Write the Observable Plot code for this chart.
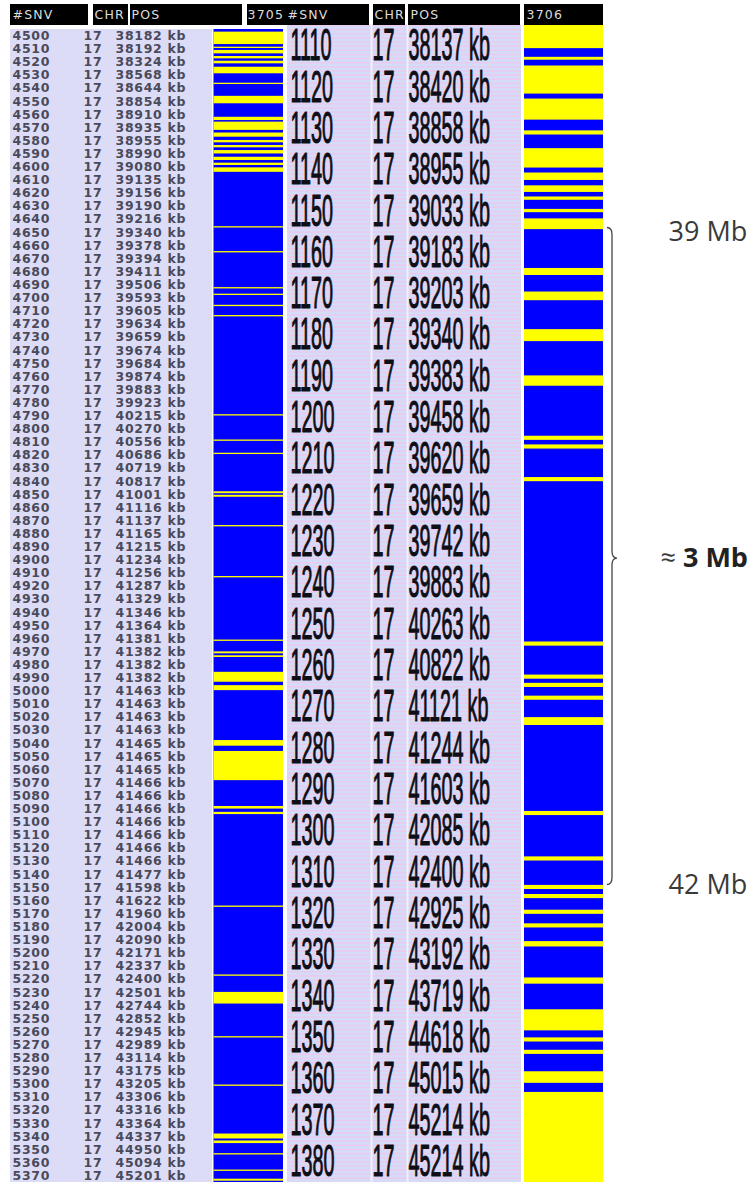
<!DOCTYPE html>
<html><head><meta charset="utf-8">
<script src="https://cdn.jsdelivr.net/npm/d3@7"></script>
<script src="https://cdn.jsdelivr.net/npm/@observablehq/plot@0.6"></script>
<style>
body{margin:0;background:#fff;}
#wrap{position:relative;width:755px;height:1182px;overflow:hidden;background:#fff;}
#wrap svg{position:absolute;top:0;}
</style></head><body><div id="wrap"></div>
<script>
// ---------- DATA ----------
const chromosome = "17";
const snvLeft = [4500,4510,4520,4530,4540,4550,4560,4570,4580,4590,4600,4610,4620,4630,4640,4650,4660,4670,4680,4690,4700,4710,4720,4730,4740,4750,4760,4770,4780,4790,4800,4810,4820,4830,4840,4850,4860,4870,4880,4890,4900,4910,4920,4930,4940,4950,4960,4970,4980,4990,5000,5010,5020,5030,5040,5050,5060,5070,5080,5090,5100,5110,5120,5130,5140,5150,5160,5170,5180,5190,5200,5210,5220,5230,5240,5250,5260,5270,5280,5290,5300,5310,5320,5330,5340,5350,5360,5370];
const posLeft = [38182,38192,38324,38568,38644,38854,38910,38935,38955,38990,39080,39135,39156,39190,39216,39340,39378,39394,39411,39506,39593,39605,39634,39659,39674,39684,39874,39883,39923,40215,40270,40556,40686,40719,40817,41001,41116,41137,41165,41215,41234,41256,41287,41329,41346,41364,41381,41382,41382,41382,41463,41463,41463,41463,41465,41465,41465,41466,41466,41466,41466,41466,41466,41466,41477,41598,41622,41960,42004,42090,42171,42337,42400,42501,42744,42852,42945,42989,43114,43175,43205,43306,43316,43364,44337,44950,45094,45201];
// yellow runs in sample 3705 (SNV index from..to), rest is blue
const yellow3705 = [[4502,4511.5],[4513.5,4514.5],[4516,4518.6],[4520.6,4522.4],[4524.2,4526.2],[4528.8,4533.8],[4541,4542],[4551,4556.7],[4567,4569.5],[4570.7,4577],[4579,4582.2],[4584.7,4586.5],[4588.5,4590.3],[4592.4,4595],[4597.5,4600],[4602,4603.8],[4605.6,4609],[4650.5,4651.5],[4669.5,4670.5],[4697,4698],[4702,4703],[4710.5,4711.5],[4718.3,4719.3],[4794,4795],[4813.3,4814.3],[4823.4,4824.4],[4852.8,4854.3],[4855.5,4857],[4878.6,4879.6],[4917.5,4918.5],[4966,4967],[4975,4976.5],[4978,4979.3],[4990.6,4998.2],[5000.8,5004.6],[5042.7,5047],[5051,5073.3],[5093,5095],[5097.5,5099.2],[5169,5170],[5221.6,5222.6],[5234.9,5243.8],[5268.7,5269.7],[5305.6,5306.6],[5343,5346.8],[5348.3,5350.3],[5358,5359],[5370.5,5371.5],[5377.5,5379]];

const snvMid = [1110,1120,1130,1140,1150,1160,1170,1180,1190,1200,1210,1220,1230,1240,1250,1260,1270,1280,1290,1300,1310,1320,1330,1340,1350,1360,1370,1380];
const posMid = [38137,38420,38858,38955,39033,39183,39203,39340,39383,39458,39620,39659,39742,39883,40263,40822,41121,41244,41603,42085,42400,42925,43192,43719,44618,45015,45214,45214];
// yellow runs in sample 3706
const yellow3706 = [[1110,1115.6],[1117.7,1118.4],[1119.8,1126.6],[1127.8,1132.9],[1135.5,1136.5],[1139.8,1144.5],[1145.7,1147.5],[1148.8,1150.4],[1151.5,1152.3],[1154.5,1155.3],[1156.8,1159.4],[1168.8,1170.5],[1174.5,1176.6],[1183.6,1186.5],[1194.8,1197.3],[1209.4,1210.4],[1211.5,1212.5],[1219.4,1220.4],[1259.2,1260.2],[1267.2,1268.2],[1269.2,1270.2],[1272.3,1273.3],[1277.5,1279.4],[1300.2,1301.2],[1311.2,1312.2],[1318.1,1319.1],[1320.3,1321.3],[1324.1,1325.1],[1327.4,1328.4],[1331.7,1333],[1340.5,1342],[1348.2,1353.3],[1355,1356],[1358,1359],[1363.2,1366],[1368.2,1390]];

const annotLabels = ["39 Mb","≈ 3 Mb","42 Mb"];
const annotSnv = [1160,1239,1318];
const headerLabels = ["#SNV","CHR","POS","3705","#SNV","CHR","POS","3706"];

// ---------- STYLE / LAYOUT ----------
const BLUE = "#0000ff", YELLOW = "#ffff00";
const wrap = document.getElementById("wrap");

// ----- left panel (sample 3705) -----
const leftEnd = snvLeft[snvLeft.length-1] + 10;
const smallText = {textAnchor: "start", lineAnchor: "middle", fontFamily: "DejaVu Sans", fontWeight: "bold", fontSize: 12.5, fill: "#4a4a5a"};
const svgA = Plot.plot({
  width: 290, height: 1182,
  marginTop: 0, marginRight: 0, marginBottom: 0, marginLeft: 0,
  x: {domain: [0, 290], range: [0, 290], axis: null},
  y: {domain: [snvLeft[0], leftEnd], range: [29, 1182], axis: null},
  style: {background: "transparent", overflow: "visible"},
  marks: [
    Plot.rect([0], {x1: 10, x2: 212, y1: snvLeft[0], y2: leftEnd, fill: "#dcdcf7"}),
    Plot.rect([0], {x1: 213.5, x2: 283, y1: snvLeft[0], y2: leftEnd, fill: BLUE}),
    Plot.rect(yellow3705, {x1: 213.5, x2: 283, y1: d => d[0], y2: d => d[1], fill: YELLOW}),
    Plot.text(snvLeft, {...smallText, x: 12, y: d => d + 5, text: d => String(d)}),
    Plot.text(snvLeft, {...smallText, x: 83, y: d => d + 5, text: () => chromosome}),
    Plot.text(snvLeft, {...smallText, x: 115, y: d => d + 5, text: (d, i) => posLeft[i] + " kb"})
  ]
});
svgA.style.left = "0px";
d3.select(svgA).selectAll("text").style("letter-spacing", "0.7px");
wrap.appendChild(svgA);

// ----- middle panel (sample 3706) + annotation -----
const midEnd = snvMid[snvMid.length-1] + 10;
const snvGrid = d3.range(snvMid[0], midEnd + 1);
function brace(y0, ym, y1) {
  return (index, scales) => {
    const X = scales.x, Y = scales.y;
    const xl = X(607), xc = X(612), xt = X(617);
    const a = Y(y0), m = Y(ym), b = Y(y1), r = 7;
    const p = d3.path();
    p.moveTo(xl, a);
    p.quadraticCurveTo(xc, a, xc, a + r);
    p.lineTo(xc, m - r);
    p.quadraticCurveTo(xc, m, xt, m);
    p.quadraticCurveTo(xc, m, xc, m + r);
    p.lineTo(xc, b - r);
    p.quadraticCurveTo(xc, b, xl, b);
    return d3.create("svg:path").attr("d", p.toString()).attr("fill", "none")
      .attr("stroke", "#444").attr("stroke-width", 1.3).node();
  };
}
const bigText = {textAnchor: "start", lineAnchor: "middle", fontFamily: "Liberation Sans", fontSize: 44,
  fill: "#0e0e16", stroke: "#0e0e16", strokeWidth: 1.1};
const svgB = Plot.plot({
  width: 472, height: 1182,
  marginTop: 0, marginRight: 0, marginBottom: 0, marginLeft: 0,
  x: {domain: [283, 755], range: [0, 472], axis: null},
  y: {domain: [snvMid[0], midEnd], range: [25, 1182], axis: null},
  style: {background: "transparent", overflow: "visible"},
  marks: [
    Plot.rect([0], {x1: 287, x2: 521, y1: snvMid[0], y2: midEnd, fill: "#d3ddf7"}),
    Plot.ruleY(snvGrid, {x1: 287, x2: 521, stroke: "#ecc9ef", strokeWidth: 1.6}),
    Plot.ruleX([371, 407], {y1: snvMid[0], y2: midEnd, stroke: "#eef0fb", strokeWidth: 2}),
    Plot.rect([0], {x1: 524, x2: 603, y1: snvMid[0], y2: midEnd, fill: BLUE}),
    Plot.rect(yellow3706, {x1: 524, x2: 603, y1: d => d[0], y2: d => d[1], fill: YELLOW}),
    Plot.text(snvMid, {...bigText, x: 290, y: d => d + 5, text: d => String(d)}),
    Plot.text(snvMid, {...bigText, x: 372, y: d => d + 5, text: () => chromosome}),
    Plot.text(snvMid, {...bigText, x: 408, y: d => d + 5, text: (d, i) => posMid[i] + " kb"}),
    brace(annotSnv[0] - 1, annotSnv[1], annotSnv[2]),
    Plot.text(annotLabels, {x: (d, i) => i === 1 ? 660 : 668, y: (d, i) => annotSnv[i], text: d => d,
      textAnchor: "start", lineAnchor: "middle", fontFamily: "Open Sans", fontSize: 27, fill: "#3a3a3a"})
  ]
});
svgB.style.left = "283px";
d3.select(svgB).selectAll("text").each(function() {
  const t = d3.select(this);
  const g = this.parentNode;
  const fs = parseFloat(g.getAttribute("font-size"));
  if (fs === 44) {
    let tr = t.attr("transform");
    if (!tr) {
      tr = `translate(${t.attr("x") || 0},${t.attr("y") || 0})`;
      t.attr("x", null).attr("y", null);
    }
    t.attr("transform", tr + " scale(0.45,1)");
  }
  if (t.text() === "≈ 3 Mb") {
    t.text("");
    t.append("tspan").text("≈ ");
    t.append("tspan").attr("font-weight", "bold").attr("fill", "#222").text("3 Mb");
  }
});
wrap.appendChild(svgB);

// ----- header row -----
const headerX1 = [10, 93, 130, 247, 373, 408, 524];
const headerX2 = [88, 128, 242, 369, 405, 520, 603];
const headerTextX = [12, 94, 131, 247, 287, 374, 410, 526];
const svgH = Plot.plot({
  width: 755, height: 26,
  marginTop: 0, marginRight: 0, marginBottom: 0, marginLeft: 0,
  x: {domain: [0, 755], range: [0, 755], axis: null},
  y: {domain: [0, 26], range: [0, 26], axis: null},
  style: {background: "transparent", overflow: "visible"},
  marks: [
    Plot.rect(headerX1, {x1: d => d, x2: (d, i) => headerX2[i], y1: 4, y2: 25, fill: "#000"}),
    Plot.text(headerLabels, {x: (d, i) => headerTextX[i], y: 14.5, text: d => d, textAnchor: "start", lineAnchor: "middle",
      fontFamily: "DejaVu Sans", fontSize: 12.5, fill: "#dcdcdc"})
  ]
});
svgH.style.left = "0px";
d3.select(svgH).selectAll("text").style("letter-spacing", "1.2px");
wrap.appendChild(svgH);
</script></body></html>
